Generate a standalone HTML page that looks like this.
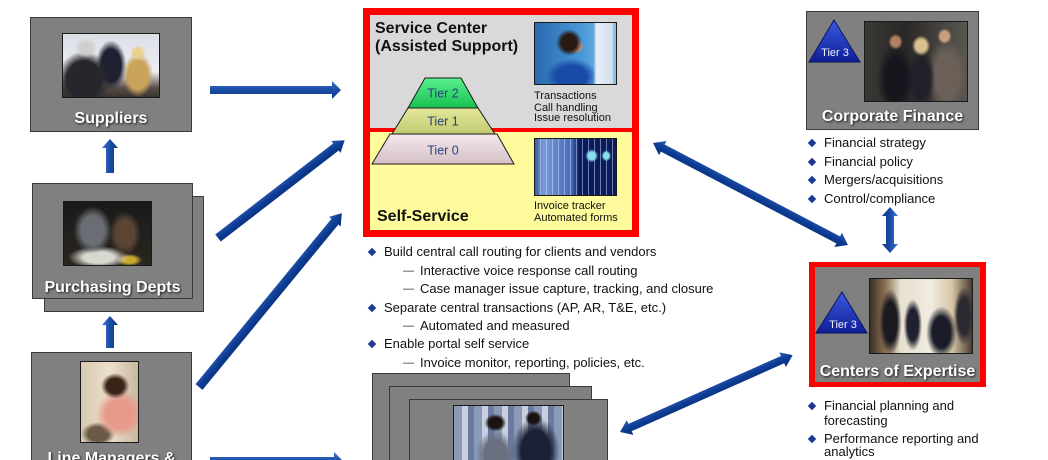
<!DOCTYPE html>
<html><head><meta charset="utf-8">
<style>
*{margin:0;padding:0;box-sizing:border-box}
html,body{width:1048px;height:460px;overflow:hidden;background:#fff}
body{font-family:"Liberation Sans",Arial,sans-serif}
#w{position:relative;width:1048px;height:460px;overflow:hidden;background:#fff}
.box{position:absolute;background:#808080;border:1px solid #3a3a3a}
.ph{position:absolute;border:1px solid #1a1a1a}
.lbl{position:absolute;color:#fff;font-weight:bold;font-size:16px;line-height:20px;text-align:center;text-shadow:1px 1px 2px #1a1a1a;white-space:nowrap}
.t{position:absolute;font-size:13px;line-height:18px;color:#111;white-space:nowrap}
.d{position:absolute;width:6px;height:6px;background:#1c3a94;transform:rotate(45deg)}
.dash{position:absolute;font-size:11px;line-height:18px;color:#333}
.cap{position:absolute;font-size:11px;line-height:11px;color:#111;white-space:nowrap}
.ttl{position:absolute;font-weight:bold;font-size:16px;line-height:20px;color:#111;white-space:nowrap}
</style></head><body><div id="w">

<!-- Suppliers -->
<div class="box" style="left:30px;top:17px;width:162px;height:115px"></div>
<div class="ph" style="left:62px;top:33px;width:98px;height:65px;background:
 radial-gradient(ellipse 12% 16% at 24% 22%, #cfcfcf 0 50%, transparent 100%),
 radial-gradient(ellipse 28% 45% at 22% 72%, #26262c 0 65%, transparent 100%),
 radial-gradient(ellipse 16% 40% at 50% 50%, #1e2230 0 65%, transparent 100%),
 radial-gradient(ellipse 8% 12% at 78% 30%, #e8d090 0 60%, transparent 100%),
 radial-gradient(ellipse 16% 35% at 78% 65%, #c9a45a 0 65%, transparent 100%),
 linear-gradient(180deg, #dcdfe6 0%, #eceef3 60%, #5a5048 85%, #3a3430 100%);"></div>
<div class="lbl" style="left:30px;top:109px;width:162px">Suppliers</div>

<!-- Purchasing -->
<div class="box" style="left:44px;top:196px;width:160px;height:116px"></div>
<div class="box" style="left:32px;top:183px;width:161px;height:116px"></div>
<div class="ph" style="left:63px;top:201px;width:89px;height:65px;background:
 radial-gradient(ellipse 22% 38% at 33% 45%, #6a6e74 0 60%, transparent 100%),
 radial-gradient(ellipse 18% 35% at 70% 50%, #5a4535 0 60%, transparent 100%),
 radial-gradient(ellipse 35% 18% at 40% 88%, #d8d8d0 0 50%, transparent 100%),
 radial-gradient(ellipse 15% 10% at 75% 92%, #c8a830 0 50%, transparent 100%),
 linear-gradient(#1a1a1a,#2a2620);"></div>
<div class="lbl" style="left:32px;top:278px;width:161px">Purchasing Depts</div>

<!-- Line managers -->
<div class="box" style="left:31px;top:352px;width:161px;height:110px"></div>
<div class="ph" style="left:80px;top:361px;width:59px;height:82px;background:
 radial-gradient(ellipse 25% 16% at 60% 30%, #3a2418 0 60%, transparent 100%),
 radial-gradient(ellipse 42% 30% at 68% 65%, #e89a8a 0 60%, transparent 100%),
 radial-gradient(ellipse 30% 15% at 30% 90%, #6a5a48 0 60%, transparent 100%),
 linear-gradient(90deg, #d8c8b0, #ece0cc 50%, #c8b8a0);"></div>
<div class="lbl" style="left:31px;top:449px;width:161px">Line Managers &amp;</div>

<!-- Center box -->
<div style="position:absolute;left:363px;top:8px;width:276px;height:229px;background:#ff0000"></div>
<div style="position:absolute;left:370px;top:15px;width:262px;height:113px;background:#d9d9d9"></div>
<div style="position:absolute;left:370px;top:132px;width:262px;height:98px;background:#fdfb9c"></div>
<div class="ttl" style="left:375px;top:19px">Service Center</div>
<div class="ttl" style="left:375px;top:37px">(Assisted Support)</div>
<div class="ttl" style="left:377px;top:207px">Self-Service</div>
<div class="ph" style="left:534px;top:22px;width:83px;height:63px;background:
 linear-gradient(90deg, transparent 72%, #e8f0f8 76%, #d0dce8 96%, transparent 97%),
 radial-gradient(ellipse 16% 22% at 42% 32%, #2a1a14 0 60%, transparent 100%),
 radial-gradient(ellipse 10% 12% at 50% 38%, #c89070 0 60%, transparent 100%),
 radial-gradient(ellipse 32% 30% at 45% 88%, #1a4aa8 0 60%, transparent 100%),
 linear-gradient(90deg, #2a6ab0, #4a9ad8 60%, #8ac0e8);"></div>
<div class="cap" style="left:534px;top:91px">Transactions</div>
<div class="cap" style="left:534px;top:103px">Call handling</div>
<div class="cap" style="left:534px;top:113px">Issue resolution</div>
<div class="ph" style="left:534px;top:138px;width:83px;height:58px;background:
 radial-gradient(ellipse 8% 12% at 70% 30%, #8ae0f0 0 55%, transparent 100%),
 radial-gradient(ellipse 6% 10% at 88% 30%, #8ae0f0 0 55%, transparent 100%),
 repeating-linear-gradient(90deg, transparent 0 5px, rgba(200,230,255,.5) 5px 6px),
 linear-gradient(90deg, #3a5aa8 0, #7a9ad8 10%, #4a6ab8 45%, #0a1860 55%, #101c58 100%);"></div>
<div class="cap" style="left:534px;top:201px">Invoice tracker</div>
<div class="cap" style="left:534px;top:213px">Automated forms</div>

<!-- Center bullets -->
<div class="d" style="left:369px;top:249px"></div>
<div class="t" style="left:384px;top:243px">Build central call routing for clients and vendors</div>
<div class="dash" style="left:403px;top:262px">—</div>
<div class="t" style="left:420px;top:262px">Interactive voice response call routing</div>
<div class="dash" style="left:403px;top:280px">—</div>
<div class="t" style="left:420px;top:280px">Case manager issue capture, tracking, and closure</div>
<div class="d" style="left:369px;top:305px"></div>
<div class="t" style="left:384px;top:299px">Separate central transactions (AP, AR, T&amp;E, etc.)</div>
<div class="dash" style="left:403px;top:317px">—</div>
<div class="t" style="left:420px;top:317px">Automated and measured</div>
<div class="d" style="left:369px;top:341px"></div>
<div class="t" style="left:384px;top:335px">Enable portal self service</div>
<div class="dash" style="left:403px;top:354px">—</div>
<div class="t" style="left:420px;top:354px">Invoice monitor, reporting, policies, etc.</div>

<!-- Bottom stacked -->
<div class="box" style="left:372px;top:373px;width:198px;height:90px"></div>
<div class="box" style="left:389px;top:386px;width:203px;height:77px"></div>
<div class="box" style="left:409px;top:399px;width:199px;height:64px"></div>
<div class="ph" style="left:453px;top:405px;width:111px;height:58px;background:
 radial-gradient(ellipse 10% 16% at 38% 30%, #1a1410 0 60%, transparent 100%),
 radial-gradient(ellipse 18% 45% at 38% 88%, #6a7080 0 60%, transparent 100%),
 radial-gradient(ellipse 8% 14% at 73% 22%, #1a1410 0 60%, transparent 100%),
 radial-gradient(ellipse 22% 60% at 75% 80%, #1a2035 0 60%, transparent 100%),
 repeating-linear-gradient(90deg, #8a9ab8 0 8px, #c8d0e0 8px 14px, #6a7aa0 14px 20px);"></div>

<!-- Corporate Finance -->
<div class="box" style="left:806px;top:11px;width:173px;height:119px"></div>
<div class="ph" style="left:864px;top:21px;width:104px;height:81px;background:
 radial-gradient(ellipse 9% 13% at 55% 30%, #d8c090 0 60%, transparent 100%),
 radial-gradient(ellipse 7% 10% at 30% 25%, #b08060 0 60%, transparent 100%),
 radial-gradient(ellipse 7% 10% at 78% 18%, #c8a080 0 60%, transparent 100%),
 radial-gradient(ellipse 18% 45% at 30% 72%, #16161e 0 60%, transparent 100%),
 radial-gradient(ellipse 14% 40% at 55% 72%, #202028 0 60%, transparent 100%),
 radial-gradient(ellipse 20% 48% at 80% 68%, #6a6058 0 60%, transparent 100%),
 linear-gradient(90deg, #3a3835, #2a2826 40%, #5a5652 100%);"></div>
<div class="lbl" style="left:806px;top:107px;width:173px">Corporate Finance</div>
<div class="d" style="left:809px;top:140px"></div>
<div class="t" style="left:824px;top:134px">Financial strategy</div>
<div class="d" style="left:809px;top:159px"></div>
<div class="t" style="left:824px;top:153px">Financial policy</div>
<div class="d" style="left:809px;top:177px"></div>
<div class="t" style="left:824px;top:171px">Mergers/acquisitions</div>
<div class="d" style="left:809px;top:196px"></div>
<div class="t" style="left:824px;top:190px">Control/compliance</div>

<!-- Centers of Expertise -->
<div style="position:absolute;left:809px;top:262px;width:177px;height:125px;background:#ff0000"></div>
<div style="position:absolute;left:815px;top:267px;width:165px;height:115px;background:#808080"></div>
<div class="ph" style="left:869px;top:278px;width:104px;height:76px;background:
 radial-gradient(ellipse 11% 45% at 20% 58%, #1a1a20 0 60%, transparent 100%),
 radial-gradient(ellipse 9% 35% at 42% 62%, #202030 0 60%, transparent 100%),
 radial-gradient(ellipse 15% 35% at 70% 72%, #1a1c28 0 60%, transparent 100%),
 radial-gradient(ellipse 10% 40% at 92% 50%, #2a2a30 0 60%, transparent 100%),
 linear-gradient(90deg, #3a3028 0, #8a7050 15%, #e8e0d0 30%, #f0ece0 60%, #d8c8a8 80%, #4a3a30 100%);"></div>
<div class="lbl" style="left:815px;top:362px;width:165px">Centers of Expertise</div>
<div class="d" style="left:809px;top:403px"></div>
<div class="t" style="left:824px;top:397px">Financial planning and</div>
<div class="t" style="left:824px;top:412px">forecasting</div>
<div class="d" style="left:809px;top:436px"></div>
<div class="t" style="left:824px;top:430px">Performance reporting and</div>
<div class="t" style="left:824px;top:443px;line-height:17px">analytics</div>

<svg width="1048" height="460" style="position:absolute;left:0;top:0" xmlns="http://www.w3.org/2000/svg">
<defs>
 <linearGradient id="ag" x1="0" y1="0" x2="0" y2="1">
  <stop offset="0" stop-color="#3f78d6"/><stop offset="0.45" stop-color="#1d4fa8"/><stop offset="1" stop-color="#0c3584"/>
 </linearGradient>
 <linearGradient id="ad" x1="0" y1="0" x2="0" y2="1">
  <stop offset="0" stop-color="#2a5cba"/><stop offset="0.5" stop-color="#0d3c92"/><stop offset="1" stop-color="#082e7a"/>
 </linearGradient>
 <linearGradient id="g2" x1="0" y1="0" x2="0" y2="1"><stop offset="0" stop-color="#5af08e"/><stop offset="1" stop-color="#18c050"/></linearGradient>
 <linearGradient id="g1" x1="0" y1="0" x2="0" y2="1"><stop offset="0" stop-color="#e4e89c"/><stop offset="1" stop-color="#c2ca70"/></linearGradient>
 <linearGradient id="g0" x1="0" y1="0" x2="0" y2="1"><stop offset="0" stop-color="#f4e8ec"/><stop offset="1" stop-color="#d6c0c8"/></linearGradient>
 <linearGradient id="tb" x1="0" y1="0" x2="0" y2="1"><stop offset="0" stop-color="#3a5ae0"/><stop offset="1" stop-color="#101e96"/></linearGradient>
</defs>

<g fill="url(#ag)">
 <path transform="translate(210,90)" d="M0,-4 H122 V-9 L131,0 L122,9 V4 H0Z"/>
 <path transform="translate(210,461)" d="M0,-4 H124 V-9 L133,0 L124,9 V4 H0Z"/>
 <path transform="translate(110,173) rotate(-90)" d="M0,-4 H25 V-8 L34,0 L25,8 V4 H0Z"/>
 <path transform="translate(110,348) rotate(-90)" d="M0,-4 H23 V-8 L32,0 L23,8 V4 H0Z"/>
 <path transform="translate(890,207) rotate(90)" d="M0,0 L9,-8 V-4 H37 V-8 L46,0 L37,8 V4 H9 V8 Z"/>
</g>
<g fill="url(#ad)">
 <path transform="translate(218,238) rotate(-37.66)" d="M0,-4.5 H149 V-7.5 L160,0 L149,7.5 V4.5 H0Z"/>
 <path transform="translate(199,387) rotate(-50.58)" d="M0,-4.5 H214 V-7.5 L225,0 L214,7.5 V4.5 H0Z"/>
 <path transform="translate(653,143) rotate(27.61)" d="M0,0 L11,-8 V-4 H209 V-8 L220,0 L209,8 V4 H11 V8 Z"/>
 <path transform="translate(620,432) rotate(-23.99)" d="M0,0 L11,-8 V-4 H178 V-8 L189,0 L178,8 V4 H11 V8 Z"/>
</g>

<g stroke="#1a1a1a" stroke-width="1">
 <polygon points="390,134 497,134 514,164 372,164" fill="url(#g0)"/>
 <polygon points="408,108 478,108 495,134 392,134" fill="url(#g1)"/>
 <polygon points="425,78 461,78 478,108 408,108" fill="url(#g2)"/>
</g>
<g font-family="Liberation Sans, Arial, sans-serif" font-size="12.5" fill="#2a3f80" text-anchor="middle">
 <text x="443" y="97.5">Tier 2</text>
 <text x="443" y="125.5">Tier 1</text>
 <text x="443" y="154.5">Tier 0</text>
</g>

<polygon points="834,20 860,62 809,62" fill="url(#tb)" stroke="#0a1460" stroke-width="1"/>
<polygon points="842,292 867,333 816,333" fill="url(#tb)" stroke="#0a1460" stroke-width="1"/>
<g font-family="Liberation Sans, Arial, sans-serif" font-size="11" fill="#eef0ff" text-anchor="middle">
 <text x="835" y="56">Tier 3</text>
 <text x="843" y="328">Tier 3</text>
</g>
</svg>
</div></body></html>
